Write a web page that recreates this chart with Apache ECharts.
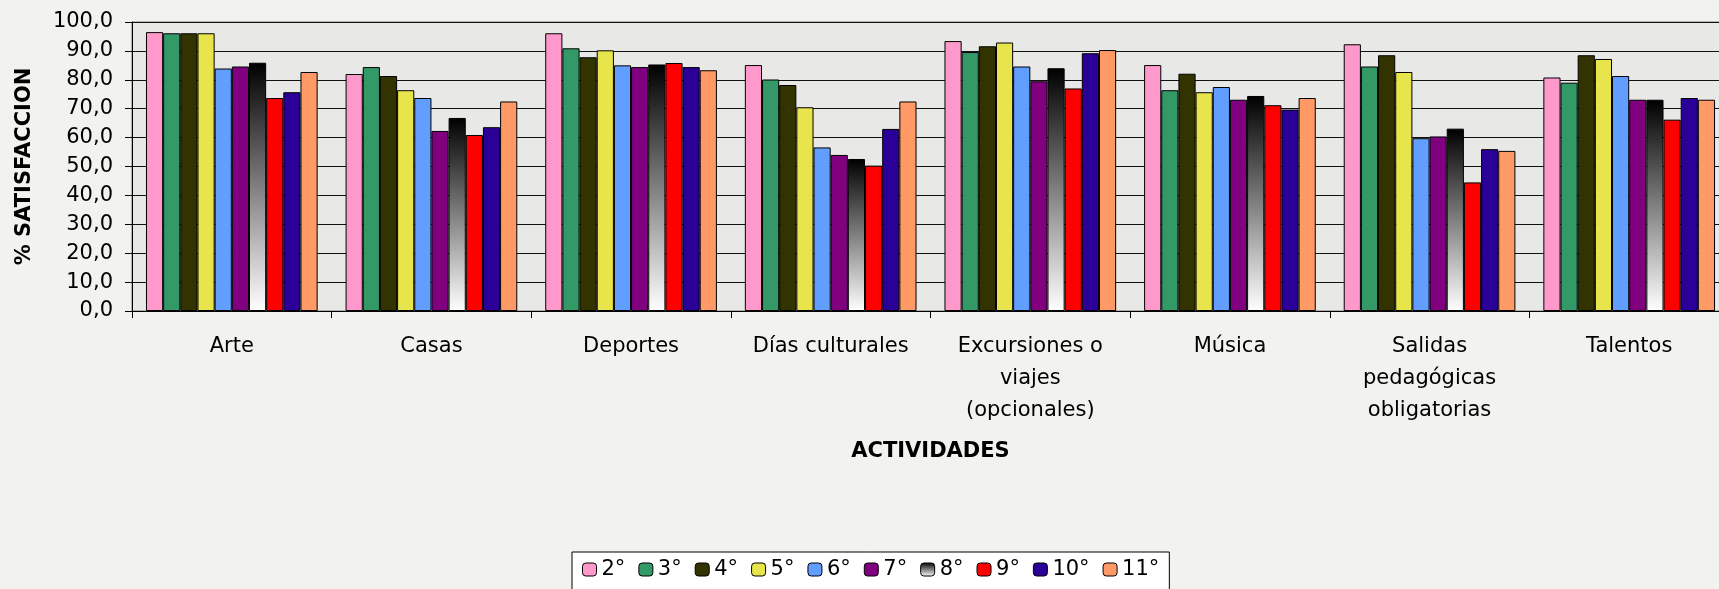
<!DOCTYPE html>
<html>
<head>
<meta charset="utf-8">
<script src="https://cdn.jsdelivr.net/npm/echarts@6/dist/echarts.min.js"></script>
<style>
  html, body { margin: 0; padding: 0; background: #f2f3ef; }
  #chart { width: 1719px; height: 589px; }
</style>
</head>
<body>
<div id="chart"></div>
<script>
  // actividades (eje x)
  var categorias = ['Arte', 'Casas', 'Deportes', 'Días culturales',
    'Excursiones o\nviajes\n(opcionales)', 'Música',
    'Salidas\npedagógicas\nobligatorias', 'Talentos'];
  var grados = ['2°', '3°', '4°', '5°', '6°', '7°', '8°', '9°', '10°', '11°'];

  // % satisfaccion por grado
  var g2  = [96.5, 82.0, 96.1, 85.1, 93.4, 85.1, 92.3, 80.8];
  var g3  = [96.1, 84.4, 90.9, 80.1, 89.6, 76.4, 84.6, 79.0];
  var g4  = [96.1, 81.3, 87.8, 78.2, 91.6, 82.1, 88.5, 88.5];
  var g5  = [96.1, 76.4, 90.2, 70.5, 92.9, 75.7, 82.7, 87.2];
  var g6  = [83.9, 73.7, 85.0, 56.6, 84.6, 77.5, 59.8, 81.3];
  var g7  = [84.6, 62.3, 84.4, 54.0, 79.5, 73.1, 60.4, 73.1];
  var g8  = [85.9, 66.8, 85.3, 52.6, 84.0, 74.4, 63.1, 73.1];
  var g9  = [73.7, 60.9, 85.8, 50.3, 77.0, 71.2, 44.5, 66.2];
  var g10 = [75.7, 63.6, 84.4, 63.0, 89.2, 69.7, 56.0, 73.7];
  var g11 = [82.7, 72.5, 83.3, 72.5, 90.3, 73.7, 55.4, 73.1];
  var valores = [g2, g3, g4, g5, g6, g7, g8, g9, g10, g11];

  // eje y
  var yMin = 0, yMax = 100, yPaso = 10;

  var colores = ['#ff99cc', '#339966', '#333300', '#e8e54c', '#619eff',
    '#800080', null, '#ff0000', '#2a0098', '#ff9966'];

  var fuente = 'DejaVu Sans, Verdana, sans-serif';

  var myChart = echarts.init(document.getElementById('chart'));

  var series = grados.map(function (g, i) {
    var color = colores[i];
    if (color === null) {
      // 8° con degradado negro -> blanco
      color = new echarts.graphic.LinearGradient(0, 0, 0, 1, [
        { offset: 0, color: '#000000' },
        { offset: 1, color: '#ffffff' }
      ]);
    }
    return {
      name: g,
      type: 'bar',
      barGap: 0,
      barCategoryGap: '14%',
      itemStyle: { color: color, borderColor: '#000', borderWidth: 1 },
      emphasis: { disabled: true },
      data: valores[i]
    };
  });

  myChart.setOption({
    backgroundColor: '#f2f3ef',
    animation: false,
    textStyle: { fontFamily: fuente },
    legend: {
      data: grados,
      left: 572,
      top: 552,
      padding: [7, 10, 12, 10],
      itemWidth: 14,
      itemHeight: 13,
      itemGap: 13,
      backgroundColor: '#ffffff',
      borderColor: '#000',
      borderWidth: 1,
      borderRadius: 0,
      textStyle: { fontSize: 21, color: '#000', fontFamily: fuente },
      itemStyle: { borderColor: '#000', borderWidth: 1 }
    },
    grid: {
      left: 132,
      top: 22,
      width: 1597,
      bottom: 278,
      outerBoundsMode: 'none',
      containLabel: false,
      show: true,
      backgroundColor: '#e8e8e6',
      borderColor: '#777',
      borderWidth: 1
    },
    xAxis: {
      type: 'category',
      data: categorias,
      name: 'ACTIVIDADES',
      nameLocation: 'middle',
      nameGap: 130,
      nameTextStyle: { fontSize: 21, fontWeight: 'bold', color: '#000', fontFamily: fuente },
      axisLine: { lineStyle: { color: '#000', width: 1 } },
      axisTick: { show: true, length: 7, lineStyle: { color: '#000' } },
      axisLabel: {
        interval: 0,
        margin: 20,
        fontSize: 21,
        lineHeight: 32,
        color: '#000',
        align: 'center',
        fontFamily: fuente
      }
    },
    yAxis: {
      type: 'value',
      min: yMin,
      max: yMax,
      interval: yPaso,
      name: '% SATISFACCION',
      nameLocation: 'middle',
      nameGap: 97,
      nameTextStyle: { fontSize: 21, fontWeight: 'bold', color: '#000', fontFamily: fuente },
      axisLine: { show: true, lineStyle: { color: '#000', width: 1 } },
      axisTick: { show: true, length: 7, lineStyle: { color: '#000' } },
      splitLine: { show: true, lineStyle: { color: '#111', width: 1 } },
      axisLabel: {
        margin: 19,
        fontSize: 21,
        color: '#000',
        fontFamily: fuente,
        formatter: function (v) { return v.toFixed(1).replace('.', ','); }
      }
    },
    series: series
  });
</script>
</body>
</html>
